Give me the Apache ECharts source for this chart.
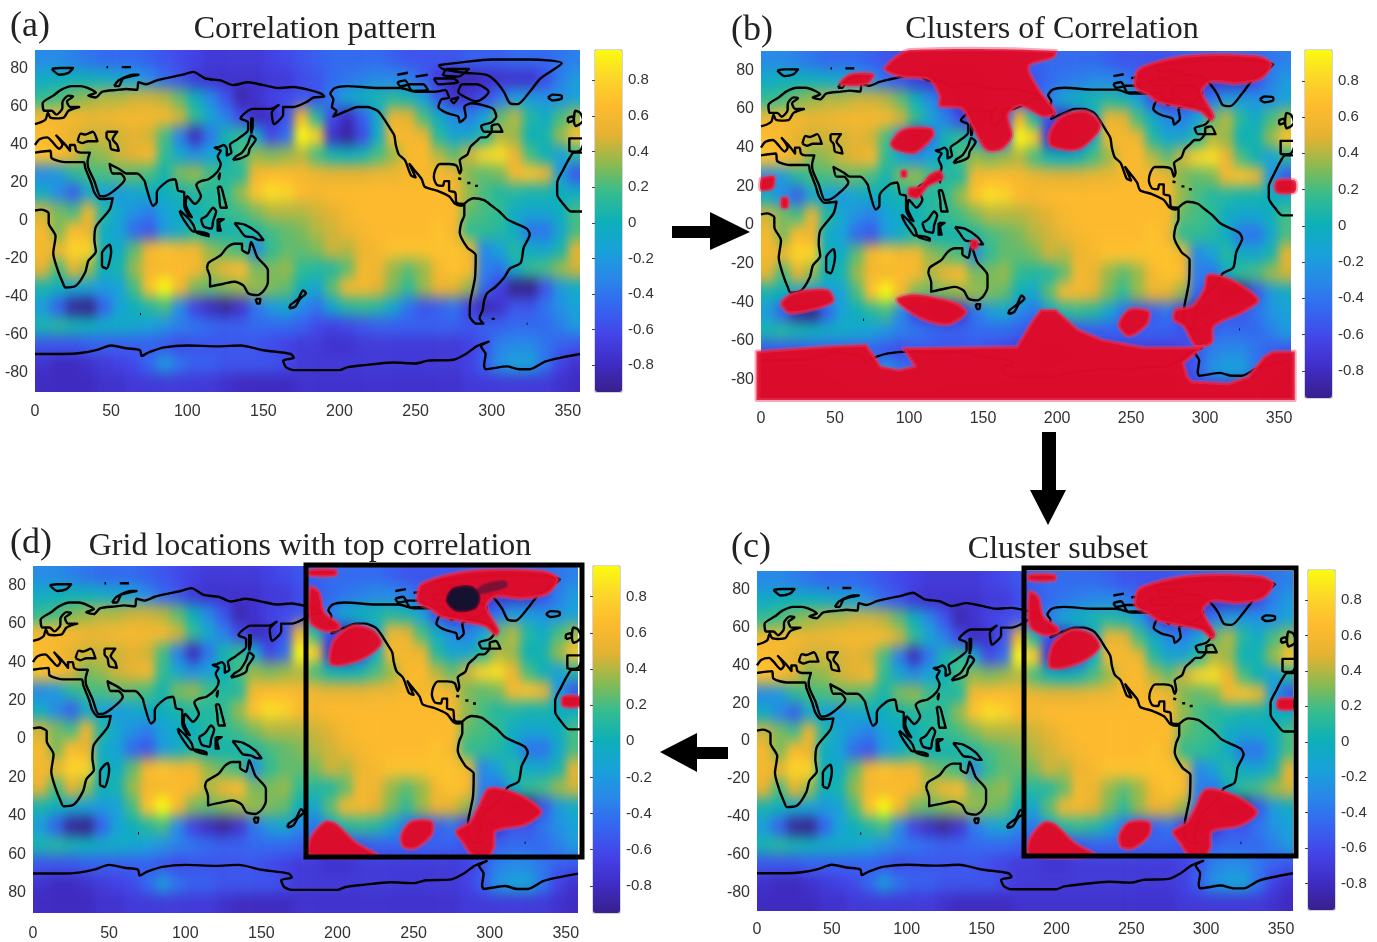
<!DOCTYPE html>
<html><head><meta charset="utf-8">
<style>html,body{margin:0;padding:0;background:#fff;width:1377px;height:942px;overflow:hidden}
.clip{position:absolute;overflow:hidden}.heat{position:absolute;filter:url(#soft)}
#front{position:absolute;left:0;top:0;width:1377px;height:942px}</style>
<script src="https://cdn.jsdelivr.net/npm/echarts@6/dist/echarts.min.js"></script>
</head><body>
<svg width="0" height="0" style="position:absolute"><filter id="soft" x="-5%" y="-5%" width="110%" height="110%" color-interpolation-filters="sRGB"><feGaussianBlur stdDeviation="5 7"/></filter></svg>
<div id="front"></div>
<script>
// correlation values, 10-degree cells, lon 5..355, rows from lat 85 to lat -85
const lonCentres=[5,15,25,35,45,55,65,75,85,95,105,115,125,135,145,155,165,175,185,195,205,215,225,235,245,255,265,275,285,295,305,315,325,335,345,355];
const r85=[-.3,-.3,-.35,-.4,-.45,-.45,-.45,-.5,-.55,-.6,-.65,-.7,-.7,-.7,-.7,-.65,-.6,-.55,-.5,-.45,-.45,-.45,-.45,-.5,-.55,-.55,-.55,-.55,-.5,-.5,-.5,-.45,-.45,-.45,-.4,-.35];
const r75=[-.05,0,0,0,-.05,-.1,-.15,-.3,-.45,-.55,-.7,-.75,-.75,-.75,-.75,-.7,-.7,-.6,-.55,-.45,-.4,-.35,-.3,-.3,-.35,-.5,-.7,-.85,-.85,-.8,-.75,-.75,-.75,-.6,-.35,-.2];
const r65=[.15,.2,.3,.35,.4,.4,.45,.45,.4,.25,0,-.3,-.55,-.85,-.75,-.65,-.6,-.55,-.55,-.35,-.1,0,.05,.1,.05,-.15,-.55,-.75,-.7,-.6,-.4,-.2,-.2,-.25,-.25,-.15];
const r55=[.6,.6,.6,.55,.55,.6,.6,.6,.6,.45,.15,-.1,-.35,-.6,-.8,-.75,-.55,.6,.1,-.6,-.8,-.5,-.1,.55,.5,.2,-.05,-.3,-.35,-.15,.25,.4,.1,-.05,.2,.35];
const r45=[.65,.6,.5,.45,.45,.45,.5,.45,.2,-.35,-.8,-.4,.05,.15,-.1,-.6,-.45,.96,.75,-.75,-.9,-.6,-.05,.6,.6,.55,.1,-.1,-.1,.1,.4,.35,0,.05,.35,.7];
const r35=[.7,.65,.5,.3,.35,.45,.5,.6,.15,-.1,-.25,-.15,0,.2,.35,.3,.35,.4,.2,.05,0,.05,.2,.35,.6,.65,.4,.25,.45,.8,.85,.55,.2,0,-.15,.1];
const r25=[-.3,-.2,.1,.2,.2,.25,.25,.2,.05,.3,.35,.2,.1,.1,.6,.65,.65,.6,.55,.5,.5,.5,.55,.55,.6,.6,.6,.55,.3,.25,.3,.6,.7,.55,-.2,-.55];
const r15=[-.05,-.3,-.5,-.1,-.15,-.2,-.1,-.05,0,.05,.1,.1,.15,.35,.7,.85,.8,.65,.6,.65,.65,.65,.65,.65,.65,.65,.65,.6,.35,.2,.1,.1,.05,.05,0,-.05];
const r5=[.45,.3,.2,.55,.1,-.1,-.25,-.35,-.15,-.05,0,.1,.15,.2,.3,.4,.4,.4,.45,.5,.6,.65,.65,.65,.65,.65,.65,.65,.25,.2,.15,-.05,-.1,-.1,0,.2];
const rm5=[.6,.3,.65,.55,-.05,-.15,-.45,-.55,-.2,-.05,.1,0,.05,.05,.1,.2,.25,.3,.4,.45,.55,.6,.65,.65,.65,.65,.7,.6,.15,.15,.1,-.05,-.4,-.4,-.1,.2];
const rm15=[.6,.55,.8,.8,0,-.05,.25,.6,.7,.6,.6,.35,.25,.2,-.3,.15,.25,.25,.3,.45,.4,.55,.6,.7,.7,.7,.7,.7,.6,-.3,-.15,.1,-.05,-.1,.05,.5];
const rm25=[.5,.2,.5,.35,0,.05,.35,.6,.6,.65,.6,.4,.55,.65,.3,.3,.35,.15,.1,.1,.25,.6,.55,.35,.25,.35,.6,.7,.65,-.35,-.4,-.05,.15,.2,.35,.45];
const rm35=[.05,0,-.1,-.15,-.2,-.15,.2,.7,.96,.6,.3,.25,.3,.35,.35,.3,.25,0,-.1,.25,.6,.6,.5,.3,.15,.35,.55,.5,.35,-.45,-.65,-.95,-.95,-.55,-.2,-.05];
const rm45=[-.2,-.5,-.9,-.95,-.5,-.15,0,.1,.2,-.3,-.65,-.8,-.9,-.75,-.4,-.2,-.1,-.3,-.4,-.1,.1,.15,.1,-.1,-.4,-.55,-.5,-.4,-.65,-.85,-.75,-.55,-.55,-.4,-.25,-.15];
const rm55=[.05,.1,.05,0,-.05,-.05,-.1,-.15,-.25,-.35,-.4,-.45,-.5,-.5,-.45,-.45,-.45,-.5,-.6,-.65,-.6,-.55,-.5,-.5,-.5,-.5,-.5,-.5,-.55,-.5,-.5,-.45,-.45,-.45,-.35,-.2];
const rm65=[-.55,-.55,-.55,-.5,-.5,-.5,-.5,-.5,-.55,-.6,-.55,-.55,-.55,-.55,-.55,-.6,-.65,-.7,-.7,-.75,-.75,-.7,-.7,-.7,-.7,-.7,-.7,-.7,-.65,-.55,-.35,-.3,-.3,-.4,-.5,-.55];
const rm75=[-.75,-.8,-.8,-.75,-.7,-.65,-.6,-.45,-.2,-.4,-.5,-.5,-.55,-.55,-.55,-.55,-.6,-.7,-.7,-.7,-.7,-.7,-.7,-.7,-.7,-.7,-.7,-.7,-.65,-.5,-.25,-.15,-.15,-.4,-.65,-.75];
const rm85=[-.8,-.8,-.8,-.8,-.75,-.75,-.7,-.7,-.7,-.7,-.7,-.7,-.75,-.8,-.8,-.8,-.8,-.75,-.75,-.75,-.75,-.75,-.75,-.75,-.75,-.75,-.75,-.75,-.7,-.7,-.7,-.7,-.7,-.7,-.75,-.8];
const valueRows=[rm85,rm75,rm65,rm55,rm45,rm35,rm25,rm15,rm5,r5,r15,r25,r35,r45,r55,r65,r75,r85];

// coastlines in lon/lat
const eurasia=[[0,51],[4,52],[7,53.5],[8.5,57],[10,54.5],[14,54],[19,54.5],[22,58],[29,60],[23,60],[21,63],[25,65.5],[22,66],[18,62.5],[18,59.5],[14,56],[11,58],[6,58],[5,62],[12,66],[17,69],[24,71],[30,71],[40,67.5],[35,66],[40,65],[44,68],[54,69],[60,69.5],[67,69],[68,73],[73,72],[80,74],[88,75.5],[97,77],[104,78.5],[112,75],[122,74],[130,71.5],[140,73],[150,71.5],[160,70],[170,70.5],[180,69],[188,67],[190,65.5],[183,65],[178,62.5],[170,60],[163,60],[163,56],[157,51],[155.5,57],[160,61],[155,59],[143,59],[135,54],[140,52],[140,48],[133,43],[128,40],[129,36],[126,34.5],[126,38],[124,40],[121,39],[118,38.5],[122,37],[120,34],[122,30],[120,26],[114,22],[109,21],[106,19],[109,13],[105,9],[100,13],[99,9],[103,2],[101,3],[98,8],[98,15],[94,16],[92,22],[87,21],[80,15],[80,10],[77.5,8],[73,18],[72,21],[67,25],[60,25],[56,27],[49,30],[51,25],[56,25],[59,22],[52,16],[45,13],[43,13],[39,21],[35,28],[34.5,31],[36,36],[30,36],[27,37],[26,40],[23,40],[23,37],[19,41],[14,45],[18,40],[16,38],[11,42],[8,44],[3,43],[0,40]];
const africa=[[0,36],[10,37],[11,33],[20,31],[32,31],[33,28],[37,20],[39,15],[43,11.5],[51,12],[49,6],[40,-3],[39,-10],[40,-16],[35,-21],[33,-27],[27,-34],[20,-35],[18,-32],[15,-26],[12,-17],[13.5,-8],[9,-1],[9,4],[4,6],[0,5.5]];
const westAfrica=[[360,5],[352,5],[347,9],[343,14],[343,20],[347,27],[351,33],[354,36],[360,36]];
const iberia=[[360,43.5],[351,43.5],[351,37],[354,36.5],[358,37],[360,40]];
const britain=[[358,51],[355,50],[354,53],[355,58],[358,57],[360,53],[358,51]];
const ireland=[[350,52],[350,54],[353,55],[354,53],[350,52]];
const blackSea=[[28,42],[30,46],[33,45.5],[38,47],[41,42],[35,42],[31,41],[28,42]];
const caspian=[[47,47],[54,47],[51,43],[54,40],[55,37],[50,38],[49,42],[47,44],[47,47]];
const northAmericaW=[[270,69],[262,68],[250,68],[240,70],[225,70],[205,71],[197,70],[194,67],[196,64],[195,60],[198,58],[196,55],[205,58],[212,60],[218,60],[225,58],[229,54],[233,49],[236,45],[237,40],[239,35],[243,32],[247,24],[250,23],[246,30],[249,27],[254,22],[256,18],[264,16],[272,13],[276,9],[280,8],[282,9]];
const southAmerica=[[282,9],[285,11],[288,12],[295,11],[300,8],[305,5],[310,1],[315,-1],[323,-4],[325,-7],[321,-14],[319,-22],[312,-25],[308,-30],[302,-35],[297,-38],[295,-42],[294,-47],[292,-51],[294.5,-54],[290,-54],[285.5,-50],[286,-42],[289,-30],[289.5,-18],[284,-14],[279,-6],[280,-1],[282,3],[282,9]];
const northAmericaE=[[282,9],[277,9.5],[276,15],[272,16],[272,21],[269,21],[268,18.5],[264,19],[262,23],[263,27],[266,30],[272,30],[277,29],[279,25],[280,27],[279,32],[284,35],[286,39],[290,42],[293,44],[296,44],[300,47],[295,47],[293,50],[300,52],[303,55],[301,59],[294,61],[287,62],[282,60],[283,55],[279,52],[278,55],[270,57],[265,60],[267,64],[272,65],[270,69]];
const newfoundland=[[300,47],[303,47],[307,47],[304,51],[300,50],[300,47]];
const baffin=[[280,72],[290,72],[298,68],[295,65],[290,63],[283,65],[278,68],[280,72]];
const victoria=[[245,72],[255,72],[258,69],[248,68.5],[245,72]];
const banks=[[238,73],[243,74],[245,72],[240,71],[238,73]];
const arcticA=[[262,75],[275,75],[278,73],[265,72],[262,75]];
const arcticB=[[270,80],[285,80],[278,76],[268,77],[270,80]];
const southampton=[[273,64],[278,65],[275,62],[273,64]];
const greenland=[[265,82],[280,83.5],[300,85],[325,85],[346,83],[332,75],[325,68],[317,61.5],[312,62],[308,68],[302,74],[296,77],[282,78],[268,80],[265,82]];
const iceland=[[337,65],[340,66.5],[346,66],[346,64.5],[340,63.5],[337,65]];
const svalbard=[[11,80],[16,80.5],[25,80.5],[22,78],[16,77],[11,80]];
const novayaZemlya=[[52,71],[55,74],[65,77],[68,77],[58,75],[55,71],[52,71]];
const japan=[[130,32],[132,34],[136,36],[140,41],[142,45],[145,43],[141,38],[140,35],[135,33],[130,32]];
const sakhalin=[[142,46],[143,50],[143,54],[142,54],[142,50],[142,46]];
const madagascar=[[44,-24],[44,-17],[49,-12.5],[50,-16],[47,-25],[44,-24]];
const australia=[[113,-25],[114,-22],[122,-18],[126,-14],[131,-12],[136,-12],[136,-15],[140,-17],[142,-11],[146,-19],[153,-26],[153,-32],[150,-37],[146,-39],[140,-38],[137,-34],[131,-32],[124,-33],[115,-34.5],[115,-30],[113,-25]];
const tasmania=[[145,-41],[148,-41],[147.5,-43.5],[146,-43.5],[145,-41]];
const newZealand=[[167,-46],[171,-45],[174,-41],[178,-38],[176,-36.5],[173,-41],[168,-44],[167,-46]];
const newGuinea=[[131,-1],[138,-2],[146,-6],[150,-10],[147,-10],[143,-8.5],[138,-8],[134,-4],[131,-1]];
const sumatraJava=[[95,5.5],[100,2],[104,-2],[106,-6],[114,-8],[114,-7],[106,-5.5],[104,-5.5],[100,-2],[96,3],[95,5.5]];
const borneo=[[109,1],[113,3],[117,7],[119,5],[117,0],[116,-4],[111,-3],[109,1]];
const sulawesi=[[120,1],[124,1],[121,-1],[122,-5],[120,-5],[120,1]];
const philippines=[[120,18],[122,18],[124,13],[126,7],[122,7],[121,13],[120,18]];
const taiwan=[[120.5,23],[121.5,25],[121,22],[120.5,23]];
const cuba=[[278,22.5],[280,22]];const hispaniola=[[284,20],[286,20]];const puertoRico=[[289,18.5],[291,18.5]];
const kerguelen=[[69,-49],[69.6,-49]];const falkland=[[300,-51.5],[302,-51.5]];const georgia=[[323,-54],[323.5,-54]];
const franzJosef=[[47,81],[48,81]];const severnaya=[[57,81],[63,81]];const queenElizabeth=[[238,77],[245,78]];const parry=[[250,76],[258,77]];
const antarctica=[[0,-70],[20,-70],[30,-69.5],[40,-68],[50,-65.5],[60,-67],[69,-68],[70,-71],[75,-69],[85,-66.5],[100,-65.5],[120,-66],[135,-65.5],[150,-68],[168,-70],[170,-72],[163,-73.5],[165,-77],[170,-78.5],[200,-78.5],[205,-77],[215,-76],[235,-74.5],[250,-75],[258,-73.5],[275,-73],[283,-70],[290,-66],[298,-63.5],[293,-66],[296,-70],[295,-76],[296,-78],[310,-76.5],[318,-78],[325,-78],[335,-74],[345,-72],[358,-70]];
const coastLines=[eurasia,africa,westAfrica,iberia,britain,ireland,blackSea,caspian,northAmericaW,southAmerica,northAmericaE,newfoundland,baffin,victoria,banks,arcticA,arcticB,southampton,greenland,iceland,svalbard,novayaZemlya,japan,sakhalin,madagascar,australia,tasmania,newZealand,newGuinea,sumatraJava,borneo,sulawesi,philippines,taiwan,cuba,hispaniola,puertoRico,kerguelen,falkland,georgia,franzJosef,severnaya,queenElizabeth,parry,antarctica];

// red clusters, panel (b)
const bSiberia=[[101,90.5],[199,90],[197.5,86.6],[181,82],[188,70],[199,58],[190.6,56],[175.5,61.5],[167,57],[169.5,46],[162,39],[152,39],[142.6,51],[135.7,60],[120.6,61.5],[120.6,66.7],[113.7,75],[94.5,76.7],[83.5,80.5],[90.4,86.6]];
const bGulf=[[196,40.8],[194.8,47.7],[203,56.3],[219.5,59],[229,53],[227.7,47.7],[214,39]];
const northCanada=[[252,74],[255.6,81],[287,87.5],[334.5,87.5],[345,83.4],[338,75.6],[321,73],[304,74],[298,69],[306,56.5],[304,54],[297,58.5],[282.5,61],[267.7,63.7],[262,67],[253.5,70.5]];
const bMongolia=[[87.6,42.5],[95.9,49.4],[115,50],[116.5,46],[104,37.3],[90.4,39]];
const bIndianW=[[13.5,-40.4],[22,-35],[45,-33.5],[49,-39.5],[35.4,-43.8],[19,-45.5]];
const bIndianE=[[91.8,-38.7],[104,-36],[131.6,-40.4],[138.5,-45.5],[126,-51.6],[106.9,-48]];
const bSpot250=[[241.5,-51.6],[248.4,-43.8],[262,-44.7],[260.7,-51.6],[248.4,-57.6]];
const bAtlantic=[[302,-25.7],[318,-28.3],[336,-38.7],[326.5,-44.7],[306,-52.5],[304.6,-61],[293.7,-62.8],[285.4,-52.5],[278.6,-49],[280,-43.8],[291,-42],[299,-33.5]];
const bAntarctic=[[-3,-65.4],[43.7,-62.8],[71,-62],[76.6,-68],[80.8,-73.2],[93,-75],[104,-73],[95.9,-63.7],[172.8,-63],[183.8,-49],[189,-43.8],[199,-43.8],[214,-54],[230.5,-59.4],[258,-63.4],[291,-63.4],[299,-62.8],[285.4,-71.5],[288,-78.4],[291,-81],[315.6,-82],[329,-78.4],[340,-68],[346,-65.4],[360.5,-65.4],[360.5,-90.5],[-3,-90.5]];
const bNovaya=[[53,73],[60,78],[76,78],[72,73],[60,72]];
const bSahara=[[0,18],[8,19],[9,25],[3,25],[0,24]];
const bSmallA=[[14,9],[18,9],[18,14],[14,14]];
const bSmallB=[[95,25],[98,25],[98,28],[95,28]];
const bChina=[[100,15],[106,14],[113,20],[123,24],[121,28],[114,26],[107,20],[100,19]];
const bCoral=[[142,-12],[146,-12],[146,-8],[142,-8]];
const bCanary=[[348,17],[360.5,17],[360.5,23],[348,23]];
const clustersB=[bSiberia,bGulf,northCanada,bMongolia,bIndianW,bIndianE,bSpot250,bAtlantic,bAntarctic,bNovaya,bSahara,bSmallA,bSmallB,bChina,bCoral,bCanary];
// red clusters, panels (c) and (d)
const cTop=[[181.5,88],[199,88],[199,85],[181.5,85]];
const cSiberia=[[182,79],[188,76.5],[191.5,66],[201,60],[201,57],[191.5,56],[182,61]];
const cGulf=[[194.7,43],[198,52],[210,59],[223,57],[229,50],[220,43],[205.6,38.7],[196,38.7]];
const cAtlantic=[[299.7,-25.5],[320,-29],[334,-37.8],[323,-44.8],[304,-48],[303,-56],[299.7,-60.6],[288.7,-60.6],[282,-53.6],[277.7,-48],[287,-43],[292,-36]];
const cSpot250=[[241.7,-50],[248,-43],[262,-43],[262,-50],[251,-57],[243,-56]];
const cSouth=[[182,-51.8],[191.5,-43],[199,-44],[212,-53.6],[226,-60.6],[182,-60.6]];
const cCanary=[[348,17],[359,17],[359,22],[348,22]];
const clustersC=[cTop,cSiberia,cGulf,northCanada,cAtlantic,cSpot250,cSouth,cCanary];
// top-correlation cells, panel (d)
const dTopTail=[[290,76],[296,80],[310,82],[311,79.5],[296,76]];
const dTopCore=[[272,72],[276,78],[288,79],[293,74],[290,68],[278,67]];

const parula=['#38208C','#3F2CC4','#4444E8','#3566F0','#2888E8','#18A2D8','#0DB0B8','#36BC8E','#8CBA50','#E4B232','#FDBA2E','#FCD52A','#FBFB10'];
const cbMin=-0.95,cbMax=0.97;
const yTicks=[-80,-60,-40,-20,0,20,40,60,80];
const cbTicks=[-0.8,-0.6,-0.4,-0.2,0,0.2,0.4,0.6,0.8];
const panels=[
 {l:35,r:580,t:50,b:392,cl:595,ct:50,cb:392,clusters:[],xm:12},
 {l:761,r:1291,t:51,b:399,cl:1305,ct:50,cb:398,clusters:clustersB,xm:12},
 {l:757,r:1293,t:571,b:911,cl:1308,ct:570,cb:910,clusters:clustersC,xm:11},
 {l:33,r:578,t:566,b:913,cl:593,ct:566,cb:913,clusters:clustersC,top:true,plainY:true,xm:14}
];
const xMax=358;
const sans='"Liberation Sans",Arial,sans-serif',serif='"Liberation Serif","Times New Roman",serif';

// blurred correlation field behind each panel
const padCells=2;
panels.forEach(p=>{
 const clip=document.createElement('div');clip.className='clip';
 clip.style.cssText=`left:${p.l}px;top:${p.t}px;width:${p.r-p.l}px;height:${p.b-p.t}px`;
 const sx=(p.r-p.l)/xMax,sy=(p.b-p.t)/180,px=padCells*10*sx,py=padCells*10*sy;
 const h=document.createElement('div');h.className='heat';
 h.style.cssText=`left:${-px}px;top:${-py}px;width:${(360+padCells*20)*sx}px;height:${(180+padCells*20)*sy}px`;
 clip.appendChild(h);document.body.insertBefore(clip,document.getElementById('front'));
 const xc=[],yc=[],cells=[];
 for(let i=-padCells;i<lonCentres.length+padCells;i++)xc.push(5+i*10);
 for(let j=-padCells;j<valueRows.length+padCells;j++)yc.push(-85+j*10);
 xc.forEach((_,a)=>yc.forEach((_,b)=>{
  const i=Math.min(lonCentres.length-1,Math.max(0,a-padCells)),j=Math.min(valueRows.length-1,Math.max(0,b-padCells));
  cells.push([a,b,valueRows[j][i]]);
 }));
 echarts.init(h).setOption({animation:false,
  grid:{left:0,right:0,top:0,bottom:0},
  xAxis:{type:'category',data:xc,show:false},yAxis:{type:'category',data:yc,show:false},
  visualMap:{show:false,min:cbMin,max:cbMax,inRange:{color:parula},calculable:false},
  series:[{type:'heatmap',data:cells,progressive:0,itemStyle:{borderWidth:0}}]});
});

// axes, coasts, clusters, colour bars and annotation on top
const coastData=[];coastLines.forEach(c=>{c.forEach(q=>coastData.push(q));coastData.push(['-','-']);});
const renderBlob=list=>(params,api)=>{
 const src=list[api.value(2)];
 return {type:'polygon',shape:{points:src.map(q=>api.coord(q)),smooth:src===bAntarctic?0:0.3},style:{fill:'#e00a26',stroke:'rgba(235,60,100,0.45)',lineWidth:4,lineJoin:'round',opacity:0.97}};
};
const renderDark=(params,api)=>{
 const q=api.value(2);const list=[dTopTail,dTopCore];
 return {type:'polygon',shape:{points:list[q].map(z=>api.coord(z)),smooth:0.3},style:{fill:q?'#14122e':'#7d1034',stroke:q?'rgba(60,10,50,.7)':'rgba(120,20,60,.5)',lineWidth:3,lineJoin:'round'}};
};
const grid=[],xAxis=[],yAxis=[],series=[],visualMap=[];
panels.forEach((p,k)=>{
 grid.push({left:p.l,top:p.t,width:p.r-p.l,height:p.b-p.t});
 xAxis.push({type:'value',gridIndex:grid.length-1,min:0,max:xMax,interval:50,splitLine:{show:false},axisLine:{show:false},axisTick:{show:false},
  axisLabel:{color:'#333',fontSize:16,fontFamily:sans,margin:p.xm,showMaxLabel:false}});
 yAxis.push({type:'value',gridIndex:grid.length-1,min:-90,max:90,splitLine:{show:false},axisLine:{show:false},axisTick:{show:false},
  axisLabel:{color:'#333',fontSize:16,fontFamily:sans,margin:7,padding:[0,0,4,0],customValues:yTicks,formatter:v=>p.plainY?String(Math.abs(v)):String(v)}});
 const g=grid.length-1;
 series.push({type:'line',xAxisIndex:g,yAxisIndex:g,data:coastData,showSymbol:false,symbol:'none',connectNulls:false,smooth:0.25,lineStyle:{color:'#000',width:2.4,join:'round'},silent:true,z:3});
 if(p.clusters.length)series.push({type:'custom',xAxisIndex:g,yAxisIndex:g,renderItem:renderBlob(p.clusters),encode:{x:0,y:1},silent:true,z:4,
  data:p.clusters.map((c,i)=>[c[0][0],c[0][1],i])});
 if(p.top)series.push({type:'custom',xAxisIndex:g,yAxisIndex:g,renderItem:renderDark,encode:{x:0,y:1},silent:true,z:5,
  data:[[dTopTail[0][0],dTopTail[0][1],0],[dTopCore[0][0],dTopCore[0][1],1]]});
 // colour bar and its scale
 visualMap.push({type:'continuous',seriesIndex:[],min:cbMin,max:cbMax,left:p.cl-15,top:p.ct-15,itemWidth:27,itemHeight:p.cb-p.ct,calculable:false,realtime:false,inRange:{color:parula},text:null});
 grid.push({left:p.cl,top:p.ct,width:27,height:p.cb-p.ct,show:true,backgroundColor:'transparent',borderColor:'#aab',borderWidth:1});
 const h=grid.length-1;
 xAxis.push({type:'value',gridIndex:h,min:0,max:1,show:false});
 yAxis.push({type:'value',gridIndex:h,position:'right',min:cbMin,max:cbMax,splitLine:{show:false},axisLine:{show:false},
  axisTick:{show:true,inside:true,length:3,lineStyle:{color:'#444'},customValues:cbTicks},
  axisLabel:{color:'#333',fontSize:15,fontFamily:sans,margin:6,padding:[0,0,2,0],customValues:cbTicks,formatter:v=>String(Math.round(v*10)/10)}});
});
const frame=(x0,y0,x1,y1)=>({type:'rect',shape:{x:x0,y:y0,width:x1-x0,height:y1-y0},style:{fill:'none',stroke:'#000',lineWidth:5},z:20});
const arrow=pts=>({type:'polygon',shape:{points:pts},style:{fill:'#000'},z:20});
const heading=(t,x,y,anchor)=>({type:'text',x,y,z:20,style:{text:t,fill:'#222',font:`${anchor==='left'?36:32}px ${serif}`,textAlign:anchor,textVerticalAlign:'middle'}});
const graphic=[
 heading('(a)',10,27,'left'),heading('Correlation pattern',315,30,'center'),
 heading('(b)',731,31,'left'),heading('Clusters of Correlation',1052,30,'center'),
 heading('(c)',731,548,'left'),heading('Cluster subset',1058,550,'center'),
 heading('(d)',10,544,'left'),heading('Grid locations with top correlation',310,547,'center'),
 frame(1024,568,1296,856),frame(306,565,582,857),
 arrow([[672,226],[710,226],[710,212],[750,232],[710,250],[710,238],[672,238]]),
 arrow([[1042,432],[1056,432],[1056,490],[1066,490],[1048,525],[1030,490],[1042,490]]),
 arrow([[728,747],[697,747],[697,733],[660,752],[697,772],[697,759],[728,759]])
];
echarts.init(document.getElementById('front')).setOption({animation:false,backgroundColor:'transparent',grid,xAxis,yAxis,visualMap,series,graphic});
</script></body></html>
